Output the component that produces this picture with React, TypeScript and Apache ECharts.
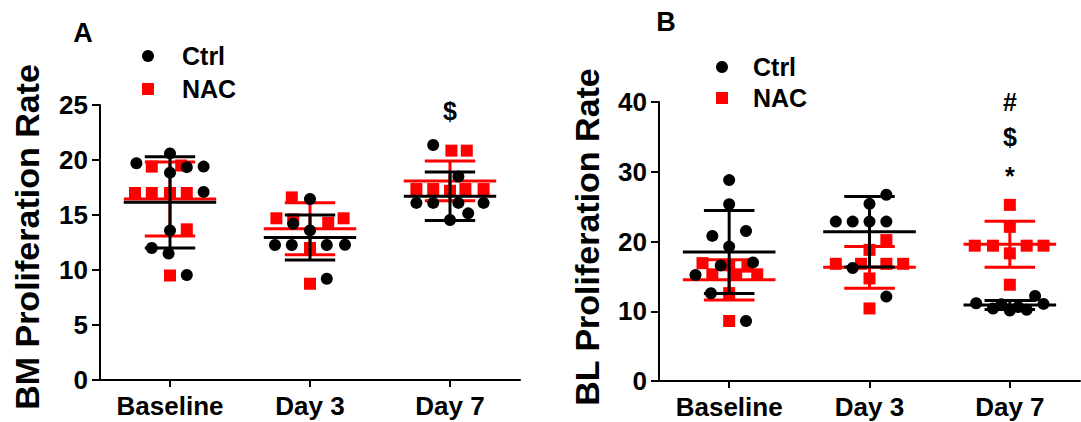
import React, { useEffect, useRef } from 'react';
import * as echarts from 'echarts';

// ---------- data ----------
const categories = ['Baseline', 'Day 3', 'Day 7'];

// y-axis ticks
const yTicksA = { min: 0, max: 25, interval: 5 };
const yTicksB = { min: 0, max: 40, interval: 10 };

// points: [groupIndex, jitter, value]
const ctrlA: number[][] = [
  [0, -0.24, 19.7], [0, 0, 20.6], [0, 0, 18.85], [0, 0.12, 19.35], [0, 0.24, 19.4],
  [0, 0.24, 17.1], [0, 0, 13.6], [0, -0.13, 12.0], [0, -0.01, 11.5], [0, 0.12, 9.55],
  [1, 0, 16.45], [1, -0.12, 14.2], [1, 0, 13.6], [1, -0.25, 12.27], [1, -0.13, 12.27],
  [1, 0.12, 12.27], [1, 0.25, 12.3], [1, 0.12, 9.2],
  [2, -0.12, 21.36], [2, 0.06, 18.5], [2, -0.24, 16.1], [2, -0.12, 16.1], [2, 0.06, 16.1],
  [2, 0.24, 16.1], [2, 0.13, 15.15], [2, 0, 14.55],
];
const nacA: number[][] = [
  [0, -0.13, 19.4], [0, 0.08, 19.5], [0, -0.25, 17.0], [0, -0.13, 17.0], [0, 0, 17.0],
  [0, 0.12, 17.0], [0, 0.12, 13.7], [0, 0, 9.5],
  [1, -0.13, 16.6], [1, -0.24, 14.7], [1, -0.12, 14.6], [1, 0.13, 14.3], [1, 0.24, 14.7],
  [1, 0, 12.0], [1, 0, 8.75],
  [2, 0.01, 20.85], [2, 0.12, 20.85], [2, -0.24, 17.36], [2, -0.12, 17.36], [2, 0, 17.2],
  [2, 0.11, 17.36], [2, 0.24, 17.36],
];
const ctrlMeanA = [16.15, 12.95, 16.7];
const ctrlSdA = [4.15, 2.05, 2.2];
const nacMeanA = [16.45, 13.75, 18.1];
const nacSdA = [3.37, 2.37, 1.8];

const ctrlB: number[][] = [
  [0, 0, 28.8], [0, 0, 25.35], [0, -0.12, 20.8], [0, 0.12, 21.5], [0, 0, 19.27],
  [0, -0.06, 16.55], [0, 0.17, 17.0], [0, -0.24, 15.2], [0, -0.13, 12.58], [0, 0.12, 8.6],
  [1, 0.12, 26.7], [1, 0, 25.4], [1, -0.24, 22.85], [1, -0.12, 22.85], [1, 0, 22.85],
  [1, 0.12, 22.85], [1, -0.12, 16.2], [1, 0.12, 12.1],
  [2, -0.24, 11.15], [2, -0.12, 10.4], [2, 0, 10.1], [2, 0.12, 10.2], [2, 0.18, 12.2],
  [2, 0.24, 11.05], [2, -0.06, 11.0], [2, 0.06, 10.6],
];
const nacB: number[][] = [
  [0, -0.19, 16.9], [0, -0.12, 15.3], [0, 0, 16.6], [0, 0.05, 15.3], [0, 0.13, 16.4],
  [0, 0.2, 15.3], [0, 0, 12.6], [0, 0, 8.6],
  [1, 0.12, 20.2], [1, 0, 18.8], [1, -0.24, 16.8], [1, -0.06, 16.8], [1, 0.12, 16.8],
  [1, 0.24, 16.8], [1, 0, 14.7], [1, 0, 10.4],
  [2, 0, 25.25], [2, 0, 22.1], [2, -0.25, 19.4], [2, -0.12, 19.4], [2, 0.12, 19.4],
  [2, 0.24, 19.4], [2, 0, 18.3], [2, 0, 13.8],
];
const ctrlMeanB = [18.5, 21.4, 10.9];
const ctrlSdB = [5.95, 5.05, 0.65];
const nacMeanB = [14.5, 16.3, 19.6];
const nacSdB = [2.9, 3.0, 3.3];

// significance marks: [groupIndex, value, text]
const marksA: [number, number, string][] = [[2, 24.5, '$']];
const marksB: [number, number, string][] = [[2, 40.0, '#'], [2, 35.0, '$'], [2, 29.4, '*']];

const seriesNames = ['Ctrl', 'NAC'];
const yTitles = ['BM Proliferation Rate', 'BL Proliferation Rate'];
const panelLabels = ['A', 'B'];

// ---------- styles ----------
const FONT = 'Liberation Sans, Arial, sans-serif';
const BLACK = '#000000';
const RED = '#ff0000';

function scatterSeries(name: string, pts: number[][], symbol: string, color: string, xi: number, yi: number, z: number) {
  return {
    type: 'scatter',
    name,
    xAxisIndex: xi,
    yAxisIndex: yi,
    symbol,
    symbolSize: 12,
    itemStyle: { color, opacity: 1 },
    z,
    silent: true,
    data: pts.map(([g, j, v]) => [g + 0.5 + j, v]),
  };
}

function errorBarSeries(name: string, means: number[], sds: number[], color: string, xi: number, yi: number, z: number) {
  return {
    type: 'custom',
    name,
    xAxisIndex: xi,
    yAxisIndex: yi,
    z,
    silent: true,
    encode: { x: 0, y: 1 },
    data: means.map((m, i) => [i + 0.5, m, sds[i]]),
    renderItem: (params: any, api: any) => {
      const x = api.value(0);
      const m = api.value(1);
      const s = api.value(2);
      const c = api.coord([x, m]);
      const t = api.coord([x, m + s]);
      const b = api.coord([x, m - s]);
      const hw = api.size([0.33, 0])[0];
      const cw = api.size([0.18, 0])[0];
      const style = { stroke: color, lineWidth: 3, fill: null };
      return {
        type: 'group',
        children: [
          { type: 'line', shape: { x1: t[0], y1: t[1], x2: b[0], y2: b[1] }, style },
          { type: 'line', shape: { x1: c[0] - hw, y1: c[1], x2: c[0] + hw, y2: c[1] }, style },
          { type: 'line', shape: { x1: t[0] - cw, y1: t[1], x2: t[0] + cw, y2: t[1] }, style },
          { type: 'line', shape: { x1: b[0] - cw, y1: b[1], x2: b[0] + cw, y2: b[1] }, style },
        ],
      };
    },
  };
}

function markSeries(marks: [number, number, string][], xi: number, yi: number) {
  return {
    type: 'custom',
    xAxisIndex: xi,
    yAxisIndex: yi,
    silent: true,
    z: 10,
    encode: { x: 0, y: 1 },
    data: marks.map(([g, v, t]) => ({ value: [g + 0.5, v], name: t })),
    renderItem: (params: any, api: any) => {
      const p = api.coord([api.value(0), api.value(1)]);
      const name = marks[params.dataIndex][2];
      return {
        type: 'text',
        x: p[0],
        y: p[1],
        style: {
          text: name,
          fill: BLACK,
          fontSize: 25,
          fontWeight: 'bold',
          fontFamily: FONT,
          textAlign: 'center',
          textVerticalAlign: 'middle',
        },
      };
    },
  };
}

function catAxis(gridIndex: number) {
  return {
    type: 'category',
    gridIndex,
    data: categories,
    boundaryGap: true,
    axisLine: { show: true, lineStyle: { color: BLACK, width: 2 } },
    axisTick: { show: true, alignWithLabel: true, length: 7, lineStyle: { color: BLACK, width: 2 } },
    axisLabel: { color: BLACK, fontSize: 26, fontWeight: 'bold', fontFamily: FONT, margin: 13 },
    splitLine: { show: false },
  };
}

function valXAxis(gridIndex: number) {
  return { type: 'value', gridIndex, min: 0, max: 3, show: false, splitLine: { show: false } };
}

function yAxis(gridIndex: number, t: { min: number; max: number; interval: number }) {
  return {
    type: 'value',
    gridIndex,
    min: t.min,
    max: t.max,
    interval: t.interval,
    axisLine: { show: true, lineStyle: { color: BLACK, width: 2 } },
    axisTick: { show: true, length: 8, lineStyle: { color: BLACK, width: 2 } },
    axisLabel: { color: BLACK, fontSize: 26, fontWeight: 'bold', fontFamily: FONT, margin: 12 },
    splitLine: { show: false },
  };
}

function legendGraphic(cx: number, cy1: number, cy2: number, textX: number) {
  return [
    { type: 'circle', shape: { cx, cy: cy1, r: 6 }, style: { fill: BLACK } },
    { type: 'rect', shape: { x: cx - 6, y: cy2 - 6, width: 12, height: 12 }, style: { fill: RED } },
    {
      type: 'text', x: textX, y: cy1,
      style: { text: seriesNames[0], fill: BLACK, fontSize: 25, fontWeight: 'bold', fontFamily: FONT, textAlign: 'left', textVerticalAlign: 'middle' },
    },
    {
      type: 'text', x: textX, y: cy2,
      style: { text: seriesNames[1], fill: BLACK, fontSize: 25, fontWeight: 'bold', fontFamily: FONT, textAlign: 'left', textVerticalAlign: 'middle' },
    },
  ];
}

function rotatedTitle(text: string, x: number, y: number) {
  return {
    type: 'text', x, y, rotation: Math.PI / 2,
    style: { text, fill: BLACK, fontSize: 34, fontWeight: 'bold', fontFamily: FONT, textAlign: 'center', textVerticalAlign: 'middle' },
  };
}

function panelLabel(text: string, x: number, y: number) {
  return {
    type: 'text', x, y,
    style: { text, fill: BLACK, fontSize: 27, fontWeight: 'bold', fontFamily: FONT, textAlign: 'center', textVerticalAlign: 'middle' },
  };
}

export default function App() {
  const ref = useRef<HTMLDivElement>(null);
  useEffect(() => {
    if (!ref.current) return;
    const chart = echarts.init(ref.current, undefined, { renderer: 'svg' });
    const option: any = {
      animation: false,
      backgroundColor: '#ffffff',
      grid: [
        { left: 100, top: 105, width: 420, height: 275, containLabel: false },
        { left: 659, top: 102, width: 421, height: 279, containLabel: false },
      ],
      xAxis: [catAxis(0), valXAxis(0), catAxis(1), valXAxis(1)],
      yAxis: [yAxis(0, yTicksA), yAxis(1, yTicksB)],
      series: [
        scatterSeries('NAC', nacA, 'rect', RED, 1, 0, 2),
        errorBarSeries('NAC SD', nacMeanA, nacSdA, RED, 1, 0, 3),
        scatterSeries('Ctrl', ctrlA, 'circle', BLACK, 1, 0, 4),
        errorBarSeries('Ctrl SD', ctrlMeanA, ctrlSdA, BLACK, 1, 0, 5),
        markSeries(marksA, 1, 0),
        scatterSeries('NAC', nacB, 'rect', RED, 3, 1, 2),
        errorBarSeries('NAC SD', nacMeanB, nacSdB, RED, 3, 1, 3),
        scatterSeries('Ctrl', ctrlB, 'circle', BLACK, 3, 1, 4),
        errorBarSeries('Ctrl SD', ctrlMeanB, ctrlSdB, BLACK, 3, 1, 5),
        markSeries(marksB, 3, 1),
      ],
      graphic: [
        rotatedTitle(yTitles[0], 27, 237),
        rotatedTitle(yTitles[1], 587, 237),
        panelLabel(panelLabels[0], 83, 33),
        panelLabel(panelLabels[1], 666, 22),
        ...legendGraphic(148, 56, 89, 182),
        ...legendGraphic(722, 67, 98, 753),
      ],
    };
    chart.setOption(option);
    return () => chart.dispose();
  }, []);
  return (
    <div
      ref={ref}
      style={{ position: 'fixed', left: 0, top: 0, width: 1081, height: 422, background: '#ffffff' }}
    />
  );
}
